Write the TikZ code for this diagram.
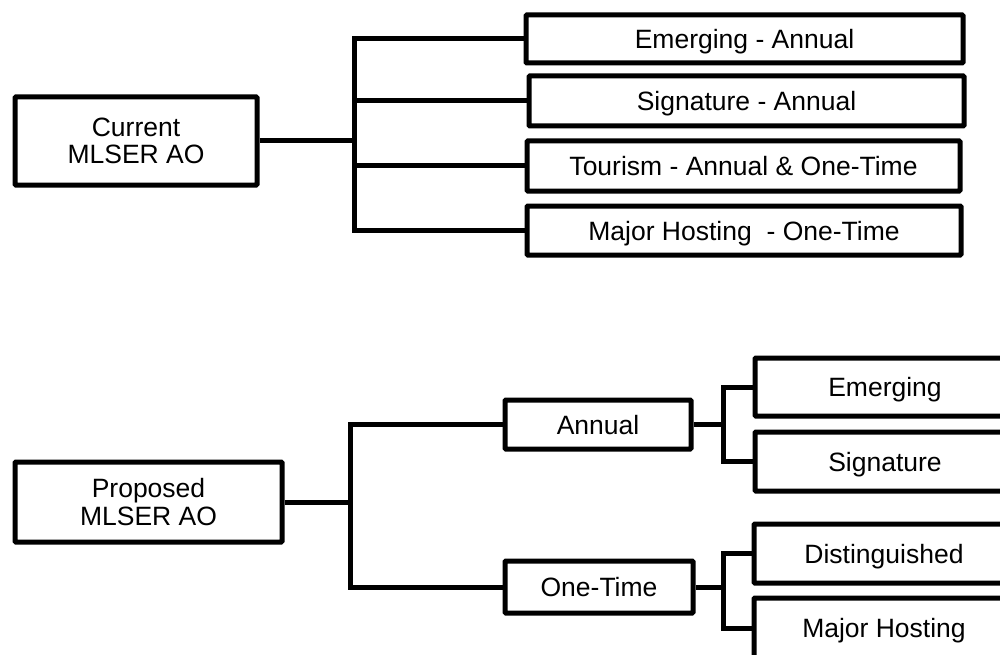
\documentclass[tikz,border=0pt]{standalone}
\usepackage{fontspec}
\setmainfont{Liberation Sans}
\begin{document}
\begin{tikzpicture}[x=1pt,y=-1pt,
  box/.style={draw, line width=5pt, inner sep=0pt, align=center, rounded corners=1pt,
    font=\fontsize{26.5}{27.5}\selectfont},
  onel/.style={box, text depth=0pt},
  conn/.style={line width=5pt}]
\useasboundingbox (0,0) rectangle (1000,655);
\clip (0,0) rectangle (1000,655);
% top section
\node[box, minimum width=242pt, minimum height=88pt] (cur) at (136,141) {Current\\MLSER AO};
\node[onel, minimum width=437pt, minimum height=48pt] (e1) at (744.5,39) {Emerging - Annual};
\node[onel, minimum width=435pt, minimum height=50pt] (e2) at (746.5,101) {Signature - Annual};
\node[onel, minimum width=433pt, minimum height=50pt] (e3) at (743.5,166) {Tourism - Annual \& One-Time};
\node[onel, minimum width=434pt, minimum height=49pt] (e4) at (744,230.5) {Major Hosting\ \ - One-Time};
\coordinate (jt) at (354,141);
\draw[conn] (cur.east) -- (jt);
\draw[conn] (e1.west) -| (jt);
\draw[conn] (e4.west) -| (jt);
\draw[conn] (e2.west) -- (e2.west -| jt);
\draw[conn] (e3.west) -- (e3.west -| jt);
% bottom section
\node[box, minimum width=267pt, minimum height=80pt] (prop) at (148.5,502) {Proposed\\MLSER AO};
\node[onel, minimum width=186pt, minimum height=49pt] (ann) at (598,424.5) {Annual};
\node[onel, minimum width=188pt, minimum height=52pt] (one) at (599,587) {One-Time};
\node[onel, minimum width=260pt, minimum height=58pt] (em) at (885,387) {Emerging};
\node[onel, minimum width=260pt, minimum height=59pt] (sig) at (885,461.5) {Signature};
\node[onel, minimum width=260pt, minimum height=59pt] (dist) at (884,553.5) {Distinguished};
\node[onel, minimum width=260pt, minimum height=60pt] (mh) at (884,628) {Major Hosting};
\coordinate (jb) at (350,502);
\draw[conn] (prop.east) -- (jb);
\draw[conn] (ann.west) -| (jb);
\draw[conn] (one.west) -| (jb);
\coordinate (ja) at (723,424.5);
\draw[conn] (ann.east) -- (ja);
\draw[conn] (em.west) -| (ja);
\draw[conn] (sig.west) -| (ja);
\coordinate (jo) at (723,587);
\draw[conn] (one.east) -- (jo);
\draw[conn] (dist.west) -| (jo);
\draw[conn] (mh.west) -| (jo);
\end{tikzpicture}
\end{document}
